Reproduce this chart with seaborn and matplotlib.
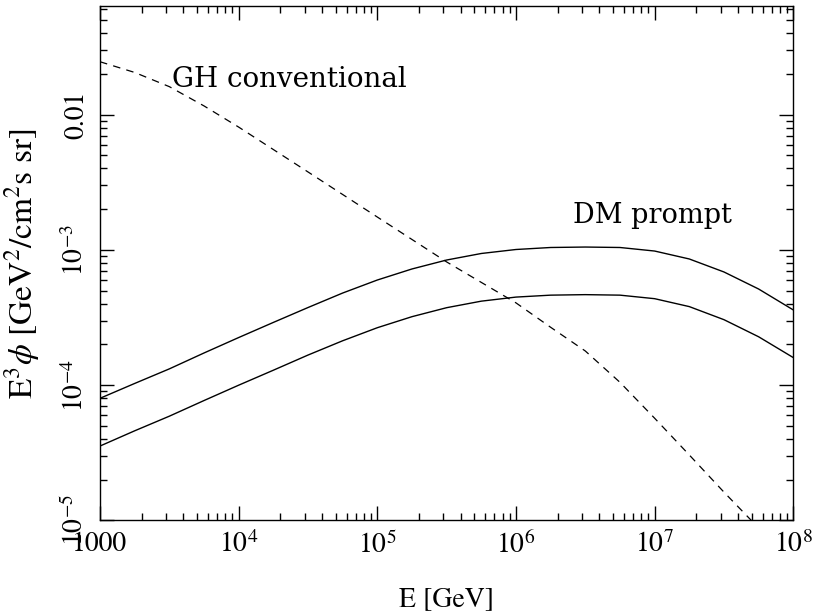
import numpy as np
import pandas as pd
import seaborn as sns
import matplotlib
matplotlib.use('Agg')
import matplotlib.pyplot as plt
from matplotlib.ticker import LogLocator, NullFormatter, FixedLocator, FixedFormatter

# energies (GeV), read at quarter-decade steps
energy = [1e3, 10**3.25, 10**3.5, 10**3.75, 1e4, 10**4.25, 10**4.5, 10**4.75,
          1e5, 10**5.25, 10**5.5, 10**5.75, 1e6, 10**6.25, 10**6.5, 10**6.75,
          1e7, 10**7.25, 10**7.5, 10**7.75, 1e8]
# DM prompt, upper and lower curves
dm_upper = [8.0e-5, 1.03e-4, 1.32e-4, 1.73e-4, 2.25e-4, 2.91e-4, 3.75e-4, 4.80e-4,
            5.99e-4, 7.23e-4, 8.42e-4, 9.41e-4, 1.007e-3, 1.042e-3, 1.05e-3, 1.042e-3,
            9.81e-4, 8.57e-4, 6.87e-4, 5.14e-4, 3.60e-4]
dm_lower = [3.55e-5, 4.6e-5, 5.9e-5, 7.7e-5, 1.0e-4, 1.29e-4, 1.67e-4, 2.13e-4,
            2.66e-4, 3.21e-4, 3.74e-4, 4.18e-4, 4.48e-4, 4.63e-4, 4.67e-4, 4.63e-4,
            4.36e-4, 3.81e-4, 3.05e-4, 2.28e-4, 1.60e-4]
# GH conventional (dashed)
gh_energy = [1e3, 10**3.25, 10**3.5, 10**3.75, 1e4, 10**4.5, 1e5, 10**5.5, 1e6,
             10**6.25, 10**6.5, 10**6.75, 1e7, 10**7.25, 10**7.5, 10**7.75, 1e8]
gh_flux = [2.46e-2, 2.05e-2, 1.61e-2, 1.16e-2, 8.09e-3, 3.77e-3, 1.75e-3, 8.15e-4,
           4.06e-4, 2.68e-4, 1.79e-4, 1.05e-4, 5.7e-5, 3.05e-5, 1.62e-5, 8.8e-6,
           4.6e-6]

x_ticks = [1e3, 1e4, 1e5, 1e6, 1e7, 1e8]
x_labels = ['1000', r'$10^{4}$', r'$10^{5}$', r'$10^{6}$', r'$10^{7}$', r'$10^{8}$']
y_ticks = [1e-5, 1e-4, 1e-3, 1e-2]
y_labels = [r'$10^{-5}$', r'$10^{-4}$', r'$10^{-3}$', '0.01']

sns.set_style('ticks')
plt.rcParams['font.family'] = ['STIXGeneral', 'DejaVu Serif']
plt.rcParams['mathtext.fontset'] = 'stix'
plt.rcParams['axes.linewidth'] = 1.0
plt.rcParams['font.size'] = 19
for key in ['text.color', 'axes.labelcolor', 'xtick.color', 'ytick.color', 'axes.edgecolor']:
    plt.rcParams[key] = 'black'

fig = plt.figure(figsize=(8.19, 6.15), dpi=100)
ax = fig.add_axes([0.1221, 0.1537, 0.8465, 0.8365])

dm = pd.DataFrame({'E': energy, 'upper': dm_upper, 'lower': dm_lower})
gh = pd.DataFrame({'E': gh_energy, 'flux': gh_flux})

sns.lineplot(data=dm, x='E', y='upper', ax=ax, color='black', linewidth=1.0)
sns.lineplot(data=dm, x='E', y='lower', ax=ax, color='black', linewidth=1.0)
sns.lineplot(data=gh, x='E', y='flux', ax=ax, color='black', linewidth=0.9,
             linestyle=(0, (6, 5)))

ax.set_xscale('log')
ax.set_yscale('log')
ax.set_xlim(1e3, 1e8)
ax.set_ylim(1e-5, 0.0635)

ax.xaxis.set_major_locator(FixedLocator(x_ticks))
ax.xaxis.set_major_formatter(FixedFormatter(x_labels))
ax.yaxis.set_major_locator(FixedLocator(y_ticks))
ax.yaxis.set_major_formatter(FixedFormatter(y_labels))
ax.xaxis.set_minor_locator(LogLocator(base=10, subs=np.arange(2, 10), numticks=20))
ax.yaxis.set_minor_locator(LogLocator(base=10, subs=np.arange(2, 10), numticks=20))
ax.xaxis.set_minor_formatter(NullFormatter())
ax.yaxis.set_minor_formatter(NullFormatter())

ax.tick_params(which='both', direction='in', top=True, right=True, width=1.0)
ax.tick_params(which='major', length=10)
ax.tick_params(which='minor', length=5)
ax.tick_params(axis='x', which='major', pad=8, labelsize=20)
ax.tick_params(axis='y', which='major', pad=8, labelsize=20)
for lab in ax.get_yticklabels():
    lab.set_rotation(90)
    lab.set_va('center')

ax.set_xlabel('E [GeV]', fontsize=20, labelpad=20)
ax.set_ylabel(r'E$^3\phi$ [GeV$^2$/cm$^2$s sr]', fontsize=24, labelpad=14)

ax.text(3.3e3, 0.0159, 'GH conventional', fontsize=20, family='DejaVu Serif')
ax.text(2.58e6, 1.58e-3, 'DM prompt', fontsize=19.5, family='DejaVu Serif')

fig.savefig('out.png', dpi=100)
